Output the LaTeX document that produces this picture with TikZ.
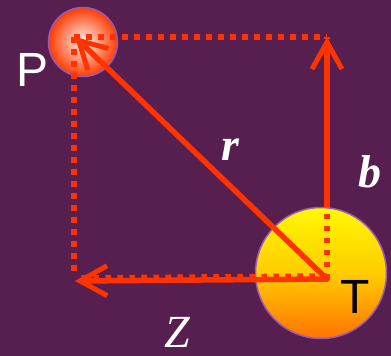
\documentclass[tikz,border=0pt]{standalone}
\usepackage{fontspec}
\usetikzlibrary{arrows.meta}
\newfontfamily\ballfont{Liberation Sans}
\newfontfamily\vecfont{Liberation Serif}
\definecolor{plum}{HTML}{561F4F}
\definecolor{vecred}{HTML}{FF3300}
\definecolor{rimlilac}{HTML}{9A5BB8}
\begin{document}
\begin{tikzpicture}[
    x=1pt, y=-1pt,
    line join=round,
    every node/.style={inner sep=0pt},
    vec/.style={draw=vecred,line width=5.5pt,line cap=round,
        -{Straight Barb[length=27pt,width=30pt,line width=5pt]}},
    guide/.style={draw=vecred,line width=5.5pt,line cap=butt,
        dash pattern=on 5.5pt off 6.5pt},
    ball/.style={circle,draw=rimlilac,line width=1.5pt},
    vlabel/.style={text=white,font=\vecfont\fontsize{46}{46}\selectfont\bfseries\itshape},
    blabel/.style={font=\ballfont\fontsize{48}{48}\selectfont}
]
    % purple page
    \fill[plum] (0,0) rectangle (391,356);
    \useasboundingbox (0,0) rectangle (391,356);

    \coordinate (O) at (327,279);
    \coordinate (Ptip) at (75,37);
    \coordinate (TR) at (327,37);
    \coordinate (BL) at (75,281);
    \coordinate (BLd) at (74,275);
    \coordinate (TLd) at (74,37);

    % b runs behind the big ball, the rest lies on top
    \draw[vec] (O) -- (TR);
    \node[ball,minimum size=131pt,top color=yellow!95!orange,
        bottom color=orange!90!red,middle color=orange!40!yellow] (Tball) at (321,273) {};
    \node[ball,minimum size=69pt,inner color=white!80!pink,
        outer color=vecred!90!orange] (Pball) at (83,42) {};

    % dotted box
    \draw[guide] (TLd) -- (TR);
    \draw[guide] (TLd) -- (BLd);
    \draw[guide] (O) -- (TR);
    \draw[guide] ([yshift=3pt]O) -- ([yshift=3pt]BL);

    \draw[vec] (O) -- (BL);
    \draw[vec] (O) -- (Ptip);

    \node[vlabel] (r) at (230,150) {r};
    \node[vlabel] (b) at (370,172) {b};
    \node[vlabel,font=\vecfont\fontsize{46}{46}\selectfont\itshape] (Z) at (177,332) {Z};
    \node[blabel,text=white] (P) at (33,70) {P};
    \node[blabel,text=black] (T) at (355,297) {T};
\end{tikzpicture}
\end{document}
